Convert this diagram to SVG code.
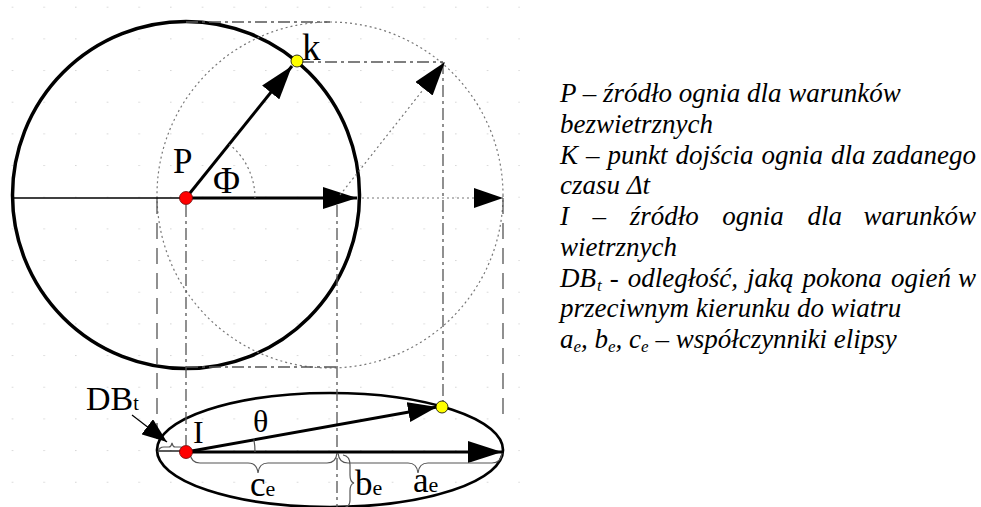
<svg xmlns="http://www.w3.org/2000/svg" width="981" height="507" viewBox="0 0 981 507">
<defs>
<pattern id="grid" x="11.7" y="6.7" width="31.67" height="31.67" patternUnits="userSpaceOnUse"><rect width="1.5" height="1" fill="#d4d4d4"/></pattern>
<marker id="ahL" markerUnits="userSpaceOnUse" viewBox="0 0 34 22" markerWidth="34" markerHeight="22" refX="34" refY="11" orient="auto"><path d="M0,0 L34,11 L0,22 z" fill="#000"/></marker>
<marker id="ahM" markerUnits="userSpaceOnUse" viewBox="0 0 29 20" markerWidth="29" markerHeight="20" refX="29" refY="10" orient="auto"><path d="M0,0 L29,10 L0,20 z" fill="#000"/></marker>
<marker id="ahS" markerUnits="userSpaceOnUse" viewBox="0 0 25 19" markerWidth="25" markerHeight="19" refX="25" refY="9.5" orient="auto"><path d="M0,0 L25,9.5 L0,19 z" fill="#000"/></marker>
</defs>
<style>
.lbl{font-family:"Liberation Serif","Times New Roman",serif;fill:#000}
.leg{font-family:"Liberation Serif","Times New Roman",serif;font-style:italic;font-size:27px;fill:#000}
.dash{fill:none;stroke:#555;stroke-width:1.3;stroke-dasharray:16 9}
.dashdot{fill:none;stroke:#555;stroke-width:1.3;stroke-dasharray:12 4 3 4}
.dot{fill:none;stroke:#777;stroke-width:1.2;stroke-dasharray:2 3}
.brace{fill:none;stroke:#555;stroke-width:1.2}
.thick{fill:none;stroke:#000;stroke-width:3}
</style>
<rect x="0" y="0" width="520" height="507" fill="url(#grid)"/>

<g id="circle-no-wind">
<circle cx="186" cy="195" r="173.5" fill="none" stroke="#000" stroke-width="3.5"/>
</g>
<g id="circle-shifted">
<circle cx="330" cy="195" r="173" class="dot"/>
</g>
<g id="ellipse-wind">
<ellipse cx="330" cy="450" rx="173" ry="57" fill="none" stroke="#000" stroke-width="2.7"/>
</g>

<g id="connectors">
<line x1="186" y1="22" x2="330" y2="22" class="dashdot"/>
<line x1="186" y1="367" x2="337" y2="367" class="dashdot"/>
<line x1="302" y1="62" x2="443" y2="62" class="dashdot"/>
<line x1="157" y1="198" x2="157" y2="442" class="dash"/>
<line x1="186" y1="205" x2="186" y2="445" class="dashdot"/>
<line x1="337" y1="205" x2="337" y2="507" class="dashdot"/>
<line x1="443" y1="62" x2="443" y2="401" class="dashdot"/>
<line x1="503" y1="198" x2="503" y2="422" class="dash"/>
<line x1="12" y1="198" x2="186" y2="198" stroke="#000" stroke-width="1.3"/>
<line x1="186" y1="198" x2="357" y2="198" class="thick" marker-end="url(#ahL)"/>
<line x1="186" y1="198" x2="292" y2="66" class="thick" marker-end="url(#ahL)"/>
<line x1="340" y1="195" x2="445" y2="62" class="dot" stroke="#555" marker-end="url(#ahL)"/>
<line x1="362" y1="198" x2="503" y2="198" class="dot" stroke="#333" marker-end="url(#ahM)"/>
<path d="M255,198 A69,69 0 0 0 229.4,144.4" class="dot"/>
<line x1="157" y1="451" x2="186" y2="451" stroke="#000" stroke-width="1.3"/>
<line x1="186" y1="452" x2="502" y2="452" class="thick" marker-end="url(#ahL)"/>
<line x1="186" y1="452" x2="437" y2="407" class="thick" marker-end="url(#ahM)"/>
<path d="M255,452 A69,69 0 0 0 253.9,439.5" fill="none" stroke="#555" stroke-width="1.2"/>
<line x1="132" y1="415" x2="167" y2="442" stroke="#000" stroke-width="1.2" marker-end="url(#ahS)"/>
<path d="M158,452 Q159,447 164,447 L169,447 Q171,447 172,443 Q173,447 175,447 L180,447 Q184,447 185,452" class="brace"/>
<path d="M190,453 Q191,463 200,463 L248,463 Q257,463 258,473 Q259,463 268,463 L327,463 Q336,463 337,453" class="brace"/>
<path d="M338,453 Q339,463 348,463 L408,463 Q417,463 418,473 Q419,463 428,463 L492,463 Q501,463 502,453" class="brace"/>
<path d="M343,455 Q350,456 350,465 L350,475 Q350,482 354,483 Q350,484 350,491 L350,500 Q350,507 343,508" class="brace"/>
</g>

<g id="point-P"><circle cx="186" cy="198" r="6.5" fill="#ff0000" stroke="#600" stroke-width="0.8"/></g>
<g id="point-k"><circle cx="297" cy="61" r="6" fill="#ffff00" stroke="#000" stroke-width="0.8"/></g>
<g id="point-I"><circle cx="186" cy="452" r="6.5" fill="#ff0000" stroke="#600" stroke-width="0.8"/></g>
<g id="point-k2"><circle cx="442" cy="407" r="6" fill="#ffff00" stroke="#000" stroke-width="0.8"/></g>

<g id="labels">
<text class="lbl" x="173" y="173" font-size="35">P</text>
<text class="lbl" x="213" y="193" font-size="37">Φ</text>
<text class="lbl" x="302" y="60" font-size="37">k</text>
<text class="lbl" x="86" y="410" font-size="34">DB<tspan font-size="20">t</tspan></text>
<text class="lbl" x="193" y="443" font-size="32">I</text>
<text class="lbl" x="253" y="432" font-size="32">θ</text>
<text class="lbl" x="250" y="496" font-size="35">c<tspan font-size="22">e</tspan></text>
<text class="lbl" x="355" y="495" font-size="35">b<tspan font-size="22">e</tspan></text>
<text class="lbl" x="413" y="492" font-size="35">a<tspan font-size="22">e</tspan></text>
</g>

<g id="legend">
<text class="leg" x="560" y="102">P – źródło ognia dla warunków</text>
<text class="leg" x="560" y="132.75">bezwietrznych</text>
<text class="leg" y="163.5"><tspan x="560">K</tspan><tspan x="586">–</tspan><tspan x="607.5">punkt</tspan><tspan x="675.5">dojścia</tspan><tspan x="761.5">ognia</tspan><tspan x="831">dla</tspan><tspan x="976" text-anchor="end">zadanego</tspan></text>
<text class="leg" x="560" y="194.25">czasu Δt</text>
<text class="leg" y="225"><tspan x="560">I</tspan><tspan x="592.6">–</tspan><tspan x="629.7">źródło</tspan><tspan x="722.3">ognia</tspan><tspan x="807.4">dla</tspan><tspan x="976" text-anchor="end">warunków</tspan></text>
<text class="leg" x="560" y="255.75">wietrznych</text>
<text class="leg" y="286.5"><tspan x="560">DB</tspan><tspan x="597" dy="4" font-size="17">t</tspan><tspan x="609.7" dy="-4">-</tspan><tspan x="627.7">odległość,</tspan><tspan x="746.9">jaką</tspan><tspan x="802.4">pokona</tspan><tspan x="890.9">ogień</tspan><tspan x="976" text-anchor="end">w</tspan></text>
<text class="leg" x="560" y="317.25">przeciwnym kierunku do wiatru</text>
<text class="leg" x="560" y="348">a<tspan dy="4" font-size="17">e</tspan><tspan dy="-4">, b</tspan><tspan dy="4" font-size="17">e</tspan><tspan dy="-4">, c</tspan><tspan dy="4" font-size="17">e</tspan><tspan dy="-4"> – współczynniki elipsy</tspan></text>
</g>
</svg>
